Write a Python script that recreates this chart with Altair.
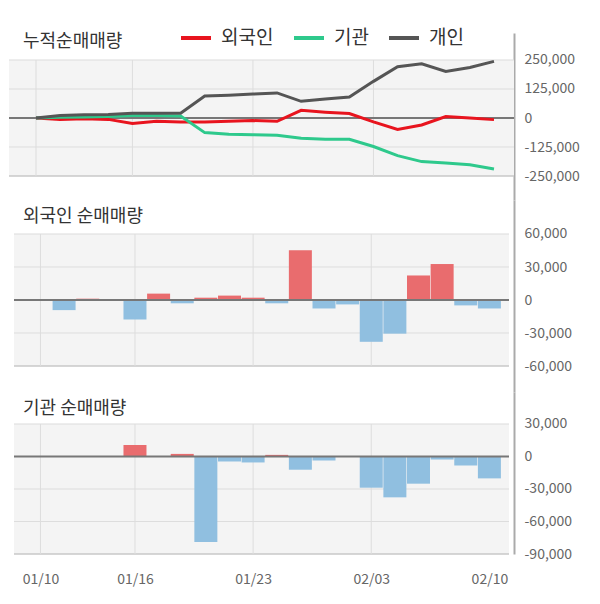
import altair as alt
import pandas as pd

dates = ["01/10", "01/13", "01/14", "01/15", "01/16", "01/17", "01/20", "01/21", "01/22", "01/23",
         "01/28", "01/29", "01/30", "01/31", "02/03", "02/04", "02/05", "02/06", "02/07", "02/10"]

foreign_cum = [0, -6000, -3000, -6000, -24000, -14000, -17000, -17000, -14000, -11000,
               -14000, 33000, 25000, 19000, -17000, -49000, -30000, 6000, 0, -7000]
inst_cum = [0, 3000, 4000, 6000, 11000, 11000, 9000, -63000, -70000, -72000,
            -74000, -87000, -92000, -92000, -123000, -162000, -188000, -194000, -202000, -220000]
indiv_cum = [0, 11000, 14000, 15000, 21000, 21000, 21000, 95000, 98000, 103000,
             108000, 72000, 82000, 90000, 158000, 221000, 234000, 201000, 218000, 244000]

foreign_net = [0, -9200, 1200, 0, -17800, 5800, -3000, 2100, 4000, 2100,
               -3000, 45300, -7700, -4000, -38000, -30600, 22300, 32700, -4900, -7700]
inst_net = [0, 0, 0, 0, 10700, 0, 2400, -79000, -4600, -5500,
            1500, -12200, -3700, 0, -28800, -37700, -25100, -2800, -8300, -20200]

series_names = ["외국인", "기관", "개인"]
series_colors = ["#e8141e", "#2ec98c", "#555555"]

cum_ticks = [250000, 125000, 0, -125000, -250000]
foreign_ticks = [60000, 30000, 0, -30000, -60000]
inst_ticks = [30000, 0, -30000, -60000, -90000]
x_label_idx = [0, 4, 9, 14, 19]
x_grid_idx = [0, 4, 9, 14]

W = 505
XDOM = [-1.12, 19.83]
FONT = "Noto Sans CJK KR"

label_expr_x = "[" + ",".join(f"'{d}'" for d in dates) + "][datum.value]"
label_expr_y = "datum.value < 0 ? '-' + format(-datum.value, ',') : format(datum.value, ',')"


def panel(title, ticks, ydom, height, kind, content, show_x=False):
    top, bot = max(ticks), min(ticks)
    yscale = alt.Scale(domain=ydom, nice=False, zero=False)
    yaxis = alt.Axis(orient="right", values=ticks, labelExpr=label_expr_y, grid=False,
                     ticks=False, domain=True, domainColor="#aaa", domainWidth=2,
                     labelFontSize=14, labelColor="#666", labelFont=FONT,
                     labelPadding=10, title=None)
    if show_x:
        xaxis = alt.Axis(values=x_label_idx, labelExpr=label_expr_x, grid=False, ticks=False,
                         domain=False, labelFontSize=14, labelColor="#666", labelFont=FONT,
                         labelPadding=18, title=None)
    else:
        xaxis = None
    xscale = alt.Scale(domain=XDOM, nice=False, zero=False)

    def X(field):
        return alt.X(field, type="quantitative", scale=xscale, axis=xaxis)

    def Y(field):
        return alt.Y(field, type="quantitative", scale=yscale, axis=yaxis)

    bg = alt.Chart(pd.DataFrame({"x0": [XDOM[0]], "x1": [XDOM[1]], "y0": [top], "y1": [bot]})).mark_rect(
        fill="#f4f4f4", strokeWidth=0).encode(
        x=X("x0"), x2="x1", y=Y("y0"), y2="y1")
    hg = [t for t in ticks if t not in (0, bot)]
    hgrid = alt.Chart(pd.DataFrame({"t": hg, "x0": [XDOM[0]] * len(hg), "x1": [XDOM[1]] * len(hg)})).mark_rule(
        color="#dddddd", strokeWidth=1).encode(
        y=Y("t"), x=X("x0"), x2="x1")
    bline = alt.Chart(pd.DataFrame({"t": [bot], "x0": [XDOM[0]], "x1": [XDOM[1]]})).mark_rule(
        color="#c8c8c8", strokeWidth=1.5).encode(
        y=Y("t"), x=X("x0"), x2="x1")
    vgrid = alt.Chart(pd.DataFrame({"i": x_grid_idx, "y0": [top] * len(x_grid_idx),
                                    "y1": [bot] * len(x_grid_idx)})).mark_rule(
        color="#dddddd", strokeWidth=1).encode(
        x=X("i"), y=Y("y0"), y2="y1")
    zero = alt.Chart(pd.DataFrame({"t": [0], "x0": [XDOM[0]], "x1": [XDOM[1]]})).mark_rule(
        color="#777777", strokeWidth=2).encode(
        y=Y("t"), x=X("x0"), x2="x1")
    ttl = alt.Chart(pd.DataFrame({"t": [title]})).mark_text(
        align="left", baseline="middle", fontSize=18, color="#333", font=FONT).encode(
        text="t:N", x=alt.value(14), y=alt.value(9 if kind == "lines" else 17))

    layers = [bg, hgrid, bline, vgrid]
    if kind == "lines":
        layers += [zero] + content(X, Y)
    else:
        layers += content(X, Y) + [zero]
    layers.append(ttl)
    return alt.layer(*layers).properties(width=W, height=height)


def lines_layer(X, Y):
    rows = []
    for o, (name, vals) in enumerate(zip(series_names, [foreign_cum, inst_cum, indiv_cum])):
        for i, v in enumerate(vals):
            rows.append({"i": i, "v": v, "s": name, "o": o})
    df = pd.DataFrame(rows)
    return [alt.Chart(df).mark_line(strokeWidth=3).encode(
        x=X("i"),
        y=Y("v"),
        color=alt.Color("s:N", sort=series_names,
                        scale=alt.Scale(domain=series_names, range=series_colors),
                        legend=alt.Legend(orient="none", legendX=170, legendY=-12, direction="horizontal",
                                          title=None, symbolType="stroke", symbolStrokeWidth=4,
                                          symbolSize=900, labelFontSize=19, labelColor="#333",
                                          labelFont=FONT, columnPadding=12, labelOffset=8,
                                          gridAlign="none")),
        detail="o:N",
        order="i:Q",
    )]


def bars_layer_factory(vals):
    def f(X, Y):
        df = pd.DataFrame({"i": list(range(len(vals))), "v": vals, "z": [0] * len(vals)})
        df = df[df["v"] != 0]
        return [alt.Chart(df).mark_bar(size=23).encode(
            x=X("i"),
            y=Y("v"),
            y2="z",
            color=alt.condition("datum.v > 0", alt.value("#e96c6e"), alt.value("#90bfe0")),
        )]
    return f


p1 = panel("누적순매매량", cum_ticks, [-353448, 366379], 167, "lines", lines_layer)
p2 = panel("외국인 순매매량", foreign_ticks, [-83636, 90909], 192, "bars", bars_layer_factory(foreign_net))
p3 = panel("기관 순매매량", inst_ticks, [-90000, 59538], 162, "bars", bars_layer_factory(inst_net), show_x=True)

chart = alt.vconcat(p1, p2, p3, spacing=0).resolve_scale(y="independent", color="independent").properties(
    padding={"top": 13, "left": 0, "right": 5, "bottom": 5}
).configure(font=FONT).configure_view(stroke=None, strokeWidth=0)

chart.save("out.html", embed_options={"renderer": "svg", "actions": False})
